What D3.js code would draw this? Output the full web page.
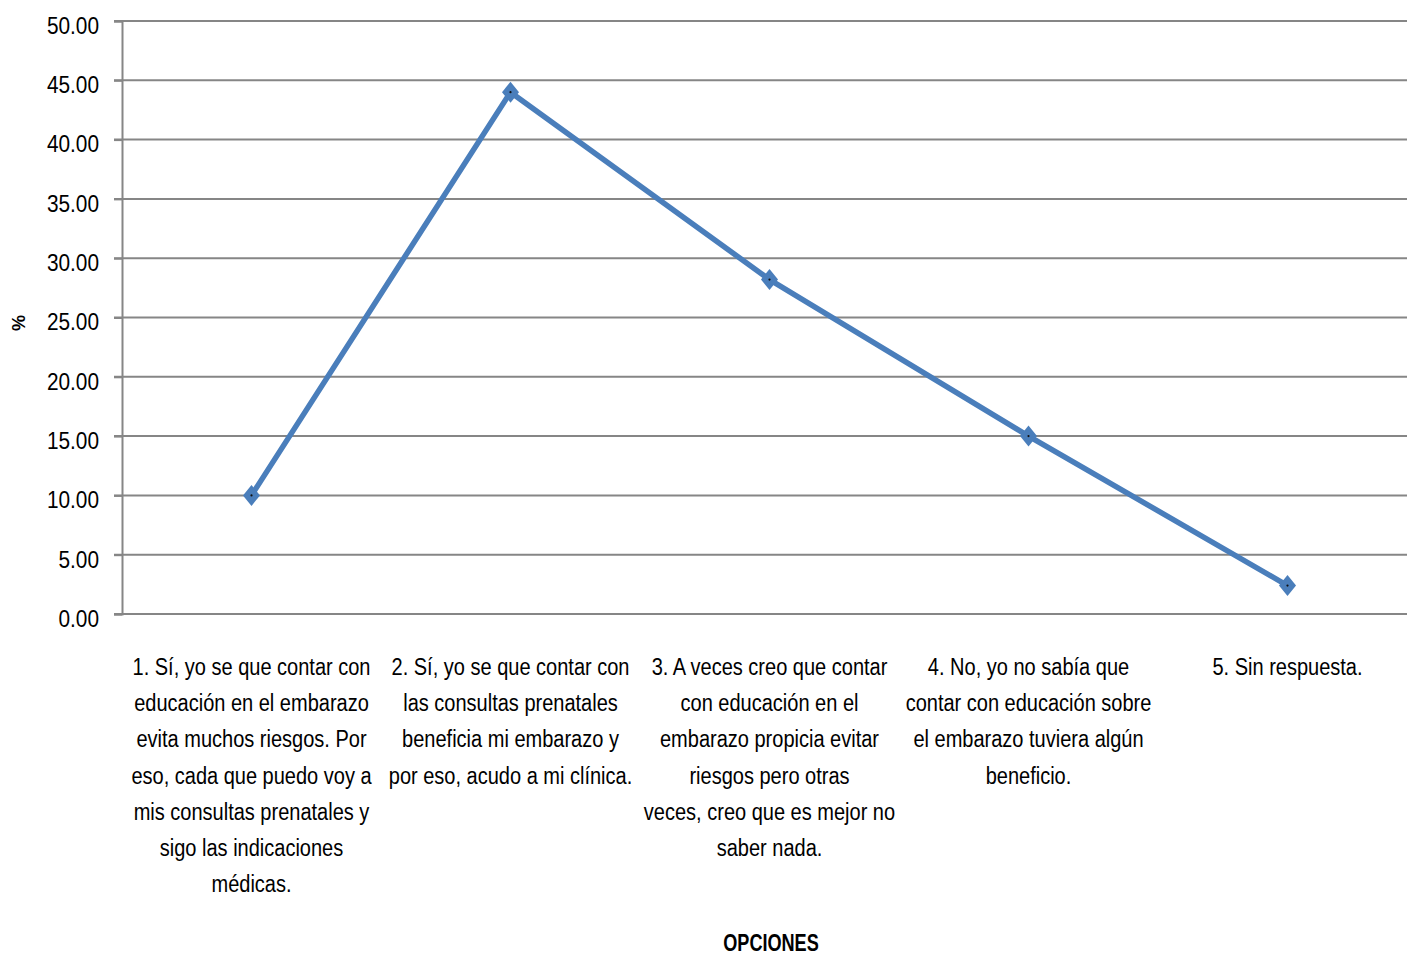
<!DOCTYPE html>
<html><head><meta charset="utf-8">
<script src="https://cdn.jsdelivr.net/npm/d3@7"></script>
<style>html,body{margin:0;padding:0;background:#fff;}svg{display:block;}
text{font-family:"Liberation Sans",Arial,sans-serif;fill:#000;}</style>
</head><body><svg id="c" width="1407" height="954"></svg>
<script>
const categories = [
  "1. Sí, yo se que contar con\neducación en el embarazo\nevita muchos riesgos.  Por\neso, cada que puedo voy a\nmis consultas prenatales y\nsigo las indicaciones\nmédicas.",
  "2. Sí, yo se que contar con\nlas consultas prenatales\nbeneficia mi embarazo y\npor eso, acudo a mi clínica.",
  "3. A veces creo que  contar\ncon educación en el\nembarazo propicia evitar\nriesgos pero otras\nveces, creo que es mejor no\nsaber nada.",
  "4. No, yo no sabía que\ncontar con educación sobre\nel embarazo  tuviera algún\nbeneficio.",
  "5. Sin respuesta."
];
const values = [10.0, 44.0, 28.2, 15.0, 2.4];
const yTicks = [0, 5, 10, 15, 20, 25, 30, 35, 40, 45, 50];
const yTitle = "%";
const xTitle = "OPCIONES";

const svg = d3.select("#c");
const mL = 122, mR = 1417, mT = 21, mB = 614;
const x = d3.scaleBand().domain(categories).range([mL, mR]);
const y = d3.scaleLinear().domain([0, 50]).range([mB, mT]);
const cx = c => x(c) + x.bandwidth() / 2;

// gridlines
svg.append("g").selectAll("line").data(yTicks).join("line")
  .attr("x1", mL - 8).attr("x2", 1407)
  .attr("y1", d => y(d)).attr("y2", d => y(d))
  .attr("stroke", "#868686").attr("stroke-width", 2);

// y axis
const yAxis = svg.append("g").attr("transform", `translate(${mL},0)`)
  .call(d3.axisLeft(y).tickValues(yTicks).tickFormat(d3.format(".2f")).tickSize(8));
yAxis.select(".domain").attr("stroke", "#868686").attr("stroke-width", 2);
yAxis.selectAll(".tick line").attr("stroke", "#868686").attr("stroke-width", 2);
yAxis.selectAll(".tick text").attr("x", null).attr("dy", null)
  .attr("transform", "translate(-23,12.3) scale(0.85,1)")
  .attr("font-size", 24.5).attr("fill", "#000")
  .style("font-family", '"Liberation Sans",Arial,sans-serif');

// x labels
const xl = svg.append("g");
categories.forEach(c => {
  const t = xl.append("text").attr("text-anchor", "middle").attr("font-size", 23)
    .attr("transform", `translate(${cx(c)},675) scale(0.87,1)`);
  c.split("\n").forEach((ln, i) => {
    t.append("tspan").attr("x", 0).attr("dy", i === 0 ? 0 : 36.2).text(ln);
  });
});

// line
const line = d3.line().x((d, i) => cx(categories[i])).y(d => y(d));
svg.append("path").datum(values).attr("d", line).attr("fill", "none")
  .attr("stroke", "#4A7EBB").attr("stroke-width", 5.5).attr("stroke-linejoin", "round");

// markers
const diamond = { draw(ctx, size) { const h = 10.5, w = 8.5; ctx.moveTo(0, -h); ctx.lineTo(w, 0); ctx.lineTo(0, h); ctx.lineTo(-w, 0); ctx.closePath(); } };
const mk = svg.append("g").selectAll("g").data(values).join("g")
  .attr("transform", (d, i) => `translate(${cx(categories[i])},${y(d)})`);
mk.append("path").attr("d", d3.symbol().type(diamond)).attr("fill", "#4A7EBB");
mk.append("circle").attr("r", 1.1).attr("fill", "#111");

// titles
svg.append("text").attr("transform", "translate(25,323) rotate(-90) scale(0.95,1)").attr("text-anchor", "middle")
  .attr("font-size", 19).attr("font-weight", "bold").text(yTitle);
svg.append("text").attr("transform", "translate(771,951) scale(0.77,1)").attr("text-anchor", "middle")
  .attr("font-size", 23.5).attr("font-weight", "bold").text(xTitle);
</script></body></html>
